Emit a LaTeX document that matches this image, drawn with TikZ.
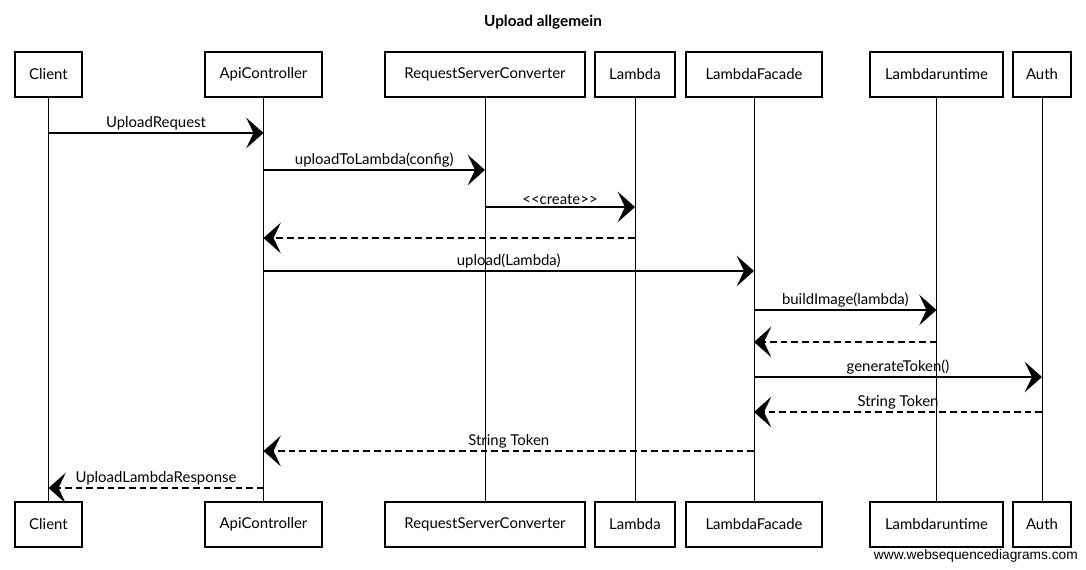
\documentclass[tikz,border=0pt]{standalone}
\usepackage{fontspec}
\setmainfont{Lato}
\newfontfamily\wmfont{Liberation Sans}
\usetikzlibrary{arrows.meta}
\begin{document}
\begin{tikzpicture}[x=0.75pt,y=-0.75pt,
  actor/.style={draw, line width=0.9pt, inner sep=0pt, minimum height=45*0.75pt, font=\fontsize{11.2}{13}\selectfont},
  life/.style={line width=0.75pt},
  msg/.style={line width=1.1pt, -{Stealth[length=13pt,width=23pt,inset=5.5pt]}},
  ret/.style={msg, dashed, dash pattern=on 5pt off 3pt},
  lbl/.style={above, inner sep=1.5pt, font=\fontsize{11.2}{13}\selectfont}
]
\useasboundingbox (0,0) rectangle (1086,570);
\node[font=\bfseries\fontsize{11.5}{13}\selectfont] (title) at (543,22) {Upload allgemein};
% top actors
\node[actor, minimum width=67*0.75pt] (cT) at (48.5,74.5) {Client};
\node[actor, minimum width=117*0.75pt] (aT) at (263.5,74.5) {ApiController};
\node[actor, minimum width=200*0.75pt] (rT) at (485,74.5) {RequestServerConverter};
\node[actor, minimum width=80*0.75pt] (lT) at (635,74.5) {Lambda};
\node[actor, minimum width=136*0.75pt] (fT) at (754,74.5) {LambdaFacade};
\node[actor, minimum width=133*0.75pt] (uT) at (936.5,74.5) {Lambdaruntime};
\node[actor, minimum width=58*0.75pt] (hT) at (1042,74.5) {Auth};
% bottom actors
\node[actor, minimum width=67*0.75pt] (cB) at (48.5,524.5) {Client};
\node[actor, minimum width=117*0.75pt] (aB) at (263.5,524.5) {ApiController};
\node[actor, minimum width=200*0.75pt] (rB) at (485,524.5) {RequestServerConverter};
\node[actor, minimum width=80*0.75pt] (lB) at (635,524.5) {Lambda};
\node[actor, minimum width=136*0.75pt] (fB) at (754,524.5) {LambdaFacade};
\node[actor, minimum width=133*0.75pt] (uB) at (936.5,524.5) {Lambdaruntime};
\node[actor, minimum width=58*0.75pt] (hB) at (1042,524.5) {Auth};
% lifelines
\foreach \n in {c,a,r,l,f,u,h} \draw[life] (\n T.south) -- (\n B.north);
% message rows
\coordinate (y1) at (0,133);
\coordinate (y2) at (0,170);
\coordinate (y3) at (0,207);
\coordinate (y4) at (0,238);
\coordinate (y5) at (0,271);
\coordinate (y6) at (0,310);
\coordinate (y7) at (0,342);
\coordinate (y8) at (0,377);
\coordinate (y9) at (0,412);
\coordinate (y10) at (0,451);
\coordinate (y11) at (0,488);
\draw[msg] (cT |- y1) -- node[lbl] {UploadRequest} (aT |- y1);
\draw[msg] (aT |- y2) -- node[lbl] {uploadToLambda(config)} (rT |- y2);
\draw[msg] (rT |- y3) -- node[lbl] {<{}<create>{}>} (lT |- y3);
\draw[ret] (lT |- y4) -- (aT |- y4);
\draw[msg] (aT |- y5) -- node[lbl] {upload(Lambda)} (fT |- y5);
\draw[msg] (fT |- y6) -- node[lbl] {buildImage(lambda)} (uT |- y6);
\draw[ret] (uT |- y7) -- (fT |- y7);
\draw[msg] (fT |- y8) -- node[lbl] {generateToken()} (hT |- y8);
\draw[ret] (hT |- y9) -- node[lbl] {String Token} (fT |- y9);
\draw[ret] (fT |- y10) -- node[lbl] {String Token} (aT |- y10);
\draw[ret] (aT |- y11) -- node[lbl] {UploadLambdaResponse} (cT |- y11);
\node[anchor=east, font=\wmfont\fontsize{10.3}{12}\selectfont, inner sep=0pt] (wm) at (1078,556) {www.websequencediagrams.com};
\end{tikzpicture}
\end{document}
